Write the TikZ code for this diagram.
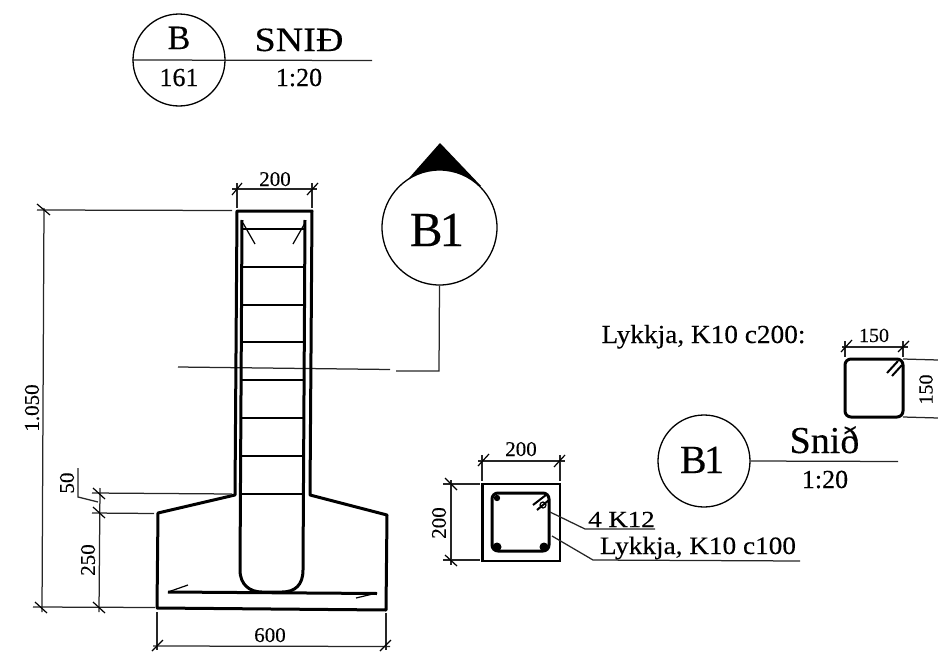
\documentclass[tikz,border=0pt]{standalone}
\usepackage{fontspec}
\setmainfont[FakeBold=0.25,AutoFakeBold=0.25]{Liberation Serif}
\newfontfamily\rmheavy[FakeBold=0.3]{Liberation Serif}
\newcommand{\fs}[1]{\rmheavy\fontsize{#1}{#1}\selectfont}
\tikzset{
  thinl/.style={line width=1.25pt,black!85},
  heavy/.style={line width=3pt,line join=round,black},
  bar/.style={line width=3pt,line join=round,black},
  tiebar/.style={line width=2.4pt,black},
  tick/.style={line width=1.2pt,black},
  lbl/.style={inner sep=0pt,anchor=base,text=black},
  rlbl/.style={inner sep=0pt,rotate=90,text=black},
  ring/.style={circle,draw=black,line width=1.3pt,fill=white,inner sep=0pt,minimum size=#1},
}
\begin{document}
\begin{tikzpicture}[x=1pt,y=-1pt]
\useasboundingbox (0,0) rectangle (938,653);
% title
\node[ring=92pt] (topc) at (179,60) {};
\coordinate (topend) at (372,60.5);
\draw[thinl] (topc.west) -- (topend);
\node[lbl,font=\fs{34}] (tB) at (179,49) {B};
\node[lbl,font=\fs{26}] (t161) at (179,86) {161};
\node[lbl,font=\fs{34},xscale=1.12] (tSn) at (299,51) {SNIÐ};
\node[lbl,font=\fs{26}] (tSc) at (299,86) {1:20};
% section marker
\fill[black] (402,186) -- (440,143) -- (481,186) -- cycle;
\node[ring=115pt] (mk) at (439.5,227.5) {};
\node[lbl,font=\fs{49}] (mkt) at (437,246) {B\kern-3pt 1};
\coordinate (cutL) at (178,367);
\coordinate (cutM) at (390,369.5);
\coordinate (cutN) at (396,371);
\coordinate (cutC) at (439,371);
\draw[thinl] (cutL) -- (cutM);
\draw[thinl] (mk.south) -- (cutC) -- (cutN);
% wall and footing
\draw[heavy] (237,211) -- (312,211) -- (310,495) -- (387,515) -- (386,610) -- (157,608) -- (158,513) -- (235,495) -- cycle;
% reinforcement
\draw[bar] (242,220) -- (240,570) .. controls (240,585) and (250,592) .. (262,592) -- (282,592) .. controls (295,592) and (303,585) .. (303,570) -- (305,220);
\foreach \y in {229,267,305,342,380,418,456,494}
  \draw[tiebar] (242,\y) -- (304,\y);
\draw[tick] (243,223) -- (255,244);
\draw[tick] (305,223) -- (293,244);
\draw[bar] (168,592) -- (377,593.5);
\draw[tick] (168,592) -- (188,585);
\draw[tick] (377,593) -- (356,598);
% dim top 200
\draw[thinl] (232,189) -- (317,189);
\draw[thinl] (237,183) -- (237,208);
\draw[thinl] (312,183) -- (312,208);
\draw[tick] (232,195) -- (242,183);
\draw[tick] (307,195) -- (318,183);
\node[lbl,font=\fs{21}] at (275,186) {200};
% dim 1.050
\draw[thinl] (37,210) -- (232,210.5);
\draw[thinl] (33,607) -- (155,607.5);
\draw[thinl] (44,208) -- (42,612);
\draw[tick] (37,204) -- (50,215);
\draw[tick] (35,602) -- (47,613);
\node[rlbl,font=\fs{21}] at (32,408) {1.050};
% dim 50 / 250
\draw[thinl] (92,493) -- (232,494);
\draw[thinl] (92,513) -- (154,513.5);
\draw[thinl] (100,488) -- (99,612);
\draw[tick] (93,488) -- (105,499);
\draw[tick] (93,507) -- (105,518);
\draw[tick] (93,602) -- (105,613);
\draw[thinl] (78,468) -- (78,497) -- (98,502);
\node[rlbl,font=\fs{21}] at (67,483) {50};
\node[rlbl,font=\fs{21}] at (88,560) {250};
% dim 600
\draw[thinl] (157,612) -- (157,650);
\draw[thinl] (386,613) -- (386,650);
\draw[thinl] (153,646) -- (390,646.5);
\draw[tick] (152,651) -- (163,640);
\draw[tick] (380,651) -- (391,640);
\node[lbl,font=\fs{21}] at (270,642) {600};
% column section
\draw[line width=2.6pt,black] (482.5,484) rectangle (560,561);
\draw[bar,rounded corners=6pt] (492,493) rectangle (549,551);
\fill[black] (497,498) circle (3.2) (497,547) circle (4.5) (544,547) circle (4.5);
\draw[line width=2pt] (533,505) -- (546,495);
\draw[line width=2pt] (537,510) -- (549,500);
\draw[tick] (543,505) circle (3);
% its dims
\draw[thinl] (478,461) -- (565,461);
\draw[thinl] (482,455) -- (482,481);
\draw[thinl] (560,455) -- (560,481);
\draw[tick] (478,466) -- (489,454);
\draw[tick] (554,467) -- (565,455);
\node[lbl,font=\fs{21}] at (521,456) {200};
\draw[thinl] (443,484) -- (480,484);
\draw[thinl] (443,560) -- (480,560);
\draw[thinl] (451,480) -- (451,565);
\draw[tick] (445,478) -- (457,490);
\draw[tick] (445,555) -- (457,566);
\node[rlbl,font=\fs{21}] at (439,523) {200};
% leaders
\draw[thinl] (550,512) -- (585,529) -- (655,529);
\draw[thinl] (552,536) -- (593,560) -- (800,561);
\node[lbl,font=\fs{23},xscale=1.17] at (621.5,527) {4 K12};
\node[lbl,font=\fs{25},xscale=1.09] at (698,554) {Lykkja, K10 c100};
% B1 title
\node[ring=92pt] (b1c) at (704,461) {};
\coordinate (b1end) at (898,461.5);
\draw[thinl] (b1c.east) -- (b1end);
\node[lbl,font=\fs{40}] at (702,473) {B\kern-2.5pt 1};
\node[lbl,font=\fs{38}] at (824.5,453) {Snið};
\node[lbl,font=\fs{26}] at (825,488) {1:20};
% stirrup
\node[lbl,font=\fs{26},xscale=1.05] at (703.5,343) {Lykkja, K10 c200:};
\draw[bar,rounded corners=6pt] (845,359) rectangle (903,417);
\draw[line width=2pt] (887,373) -- (898,361);
\draw[line width=2pt] (892,376) -- (902,365);
\draw[thinl] (842,347) -- (908,347);
\draw[thinl] (845,341) -- (845,357);
\draw[thinl] (903,341) -- (903,357);
\draw[tick] (841,352) -- (852,340);
\draw[tick] (898,352) -- (909,341);
\node[lbl,font=\fs{20}] at (874,342) {150};
\draw[thinl] (903,359) -- (938,360);
\draw[thinl] (903,417) -- (938,418);
\node[rlbl,font=\fs{20}] at (926,389.5) {150};
\end{tikzpicture}
\end{document}
